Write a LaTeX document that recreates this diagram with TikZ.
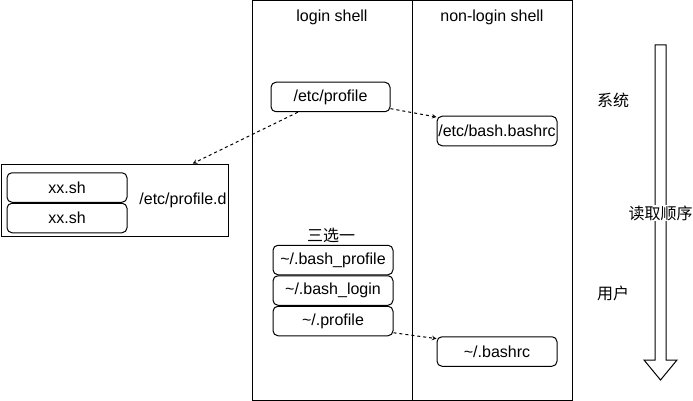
\documentclass[tikz,border=0pt]{standalone}
\usepackage{fontspec}
\setmainfont{Liberation Sans}
\newfontfamily\cjk{Noto Sans CJK SC}
\usetikzlibrary{arrows,positioning}

\begin{document}
\begin{tikzpicture}[x=1pt, y=-1pt,
    node distance=0pt,
    every path/.style={line width=1pt},
    every node/.style={font=\fontsize{16}{19}\selectfont},
    col/.style={draw, minimum width=160pt, minimum height=400pt, inner sep=0pt},
    file/.style={draw, rounded corners=5pt, minimum width=120pt, minimum height=29.5pt, inner sep=0pt},
    link/.style={->, >=stealth, dash pattern=on 3pt off 3pt}]
    \useasboundingbox (0,0) rectangle (693,401);
    % shell columns
    \node[col] (login) at (332,200.5) {};
    \node[col] (nonlogin) at (492,200.5) {};
    \node (hlogin) at (332,17) {login shell};
    \node (hnonlogin) at (492,17) {non-login shell};
    % profile.d
    \node[draw, minimum width=227pt, minimum height=72pt, inner sep=0pt] (pdir) at (114.5,200) {};
    \node[file] (xxa) at (67,187.5) {xx.sh};
    \node[file, below=of xxa] (xxb) {xx.sh};
    \node (pdlabel) at (183,200) {/etc/profile.d};
    % system files
    \node[file, minimum width=119pt] (prof) at (330.5,97) {/etc/profile};
    \node[file] (bashrc) at (497,131) {/etc/bash.bashrc};
    % user files
    \node (pick) at (331,235) {\cjk 三选一};
    \node[file] (bprof) at (333,260) {\textasciitilde/.bash\_profile};
    \node[file, below=of bprof] (blogin) {\textasciitilde/.bash\_login};
    \node[file, below=of blogin] (uprof) {\textasciitilde/.profile};
    \node[file] (ubashrc) at (497,351.5) {\textasciitilde/.bashrc};
    \draw[link] (prof.205) -- (pdir.25);
    \draw[link] (prof.349) -- (bashrc.167);
    \draw[link] (uprof.349) -- (ubashrc.168);
    % order arrow
    \node (sys) at (613,100) {\cjk 系统};
    \node (usr) at (613,293) {\cjk 用户};
    \draw (655,45) -- (666,45) -- (666,360) -- (677,360) -- (660.5,380) -- (644,360) -- (655,360) -- cycle;
    \node[fill=white, inner sep=1pt] (order) at (660.5,213) {\cjk 读取顺序};
\end{tikzpicture}
\end{document}
